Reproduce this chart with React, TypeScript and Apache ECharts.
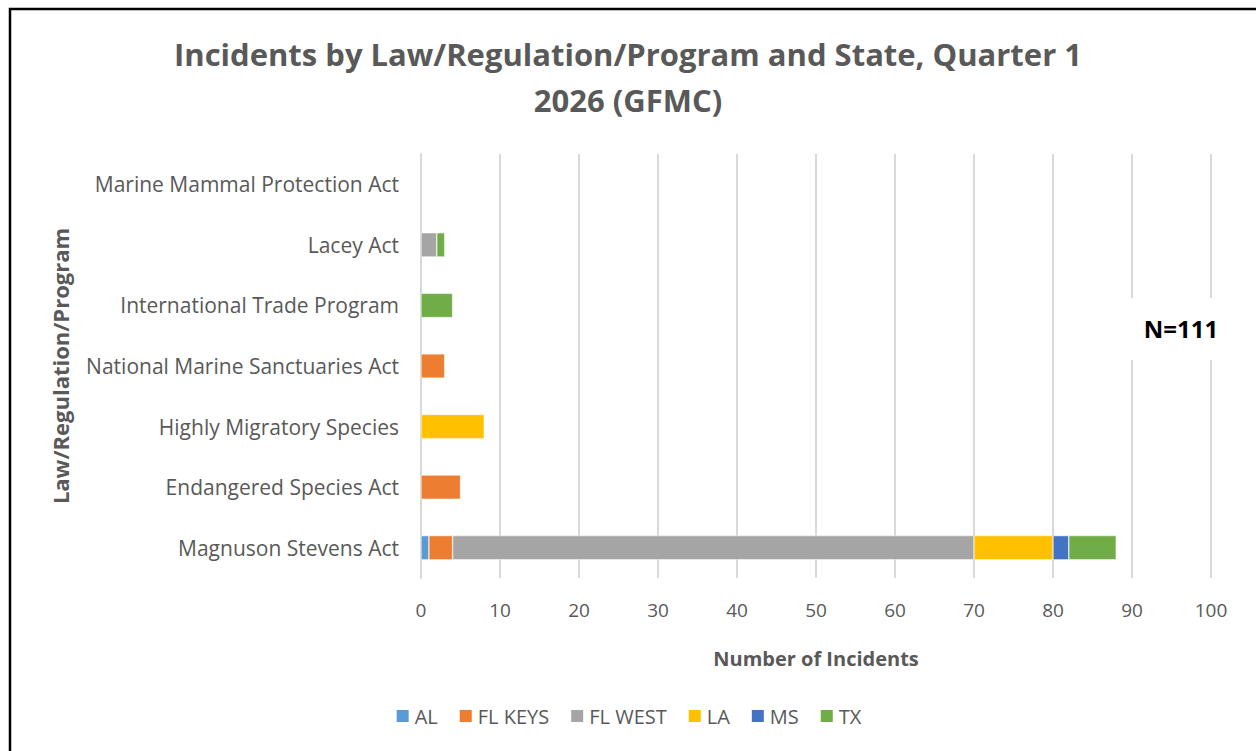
import React, { useEffect, useRef } from "react";
import * as echarts from "echarts";

const categories = [
  "Magnuson Stevens Act",
  "Endangered Species Act",
  "Highly Migratory Species",
  "National Marine Sanctuaries Act",
  "International Trade Program",
  "Lacey Act",
  "Marine Mammal Protection Act",
];
const seriesNames = ["AL", "FL KEYS", "FL WEST", "LA", "MS", "TX"];
const colors = ["#5B9BD5", "#ED7D31", "#A5A5A5", "#FFC000", "#4472C4", "#70AD47"];
const alValues = [1, null, null, null, null, null, null];
const flKeysValues = [3, 5, null, 3, null, null, null];
const flWestValues = [66, null, null, null, null, 2, null];
const laValues = [10, null, 8, null, null, null, null];
const msValues = [2, null, null, null, null, null, null];
const txValues = [6, null, null, null, 4, 1, null];
const allValues = [alValues, flKeysValues, flWestValues, laValues, msValues, txValues];

const FONT = "'Open Sans', sans-serif";
const GREY = "#595959";

export default function App() {
  const ref = useRef<HTMLDivElement>(null);
  useEffect(() => {
    const chart = echarts.init(ref.current!, null, { renderer: "svg" });
    chart.setOption({
      animation: false,
      backgroundColor: "#ffffff",
      title: {
        text: "Incidents by Law/Regulation/Program and State, Quarter 1\n2026 (GFMC)",
        left: "center",
        top: 26,
        textStyle: {
          fontFamily: FONT,
          fontSize: 31,
          fontWeight: "bold",
          color: GREY,
          lineHeight: 46,
        },
      },
      grid: { left: 421, right: 45, top: 154, bottom: 173, containLabel: false },
      legend: {
        bottom: 20,
        left: "center",
        itemWidth: 14,
        itemHeight: 14,
        itemGap: 20,
        icon: "rect",
        textStyle: { fontFamily: FONT, fontSize: 20, color: GREY },
        data: seriesNames,
      },
      xAxis: {
        type: "value",
        min: 0,
        max: 100,
        interval: 10,
        name: "Number of Incidents",
        nameLocation: "middle",
        nameGap: 70,
        nameTextStyle: { fontFamily: FONT, fontSize: 20, fontWeight: "bold", color: GREY },
        axisLabel: { fontFamily: FONT, fontSize: 19, color: GREY, margin: 22 },
        axisLine: { show: false },
        axisTick: { show: false },
        splitLine: { show: true, lineStyle: { color: "#D9D9D9", width: 2 } },
      },
      yAxis: {
        type: "category",
        data: categories,
        name: "Law/Regulation/Program",
        nameLocation: "middle",
        nameGap: 350,
        nameTextStyle: { fontFamily: FONT, fontSize: 22, fontWeight: "bold", color: GREY },
        axisLabel: { fontFamily: FONT, fontSize: 21, color: GREY, margin: 22 },
        axisLine: { show: true, lineStyle: { color: "#D9D9D9", width: 2 } },
        axisTick: { show: false },
        splitLine: { show: false },
      },
      series: seriesNames.map((name, i) => ({
        name,
        type: "bar",
        stack: "total",
        data: allValues[i],
        barWidth: "40%",
        itemStyle: { color: colors[i], borderColor: "#ffffff", borderWidth: 0.5 },
      })),
      graphic: [
        {
          type: "rect",
          shape: { x: 1118, y: 298, width: 130, height: 62 },
          style: { fill: "#ffffff" },
          z: 10,
        },
        {
          type: "text",
          x: 1181,
          y: 328,
          style: {
            text: "N=111",
            fontFamily: FONT,
            fontSize: 24,
            fontWeight: "bold",
            fill: "#000000",
            align: "center",
            verticalAlign: "middle",
          },
          z: 11,
        },
        {
          type: "rect",
          shape: { x: 10, y: 9, width: 1260, height: 760 },
          style: { fill: "none", stroke: "#000000", lineWidth: 2.5 },
          z: 12,
        },
      ],
    });
    return () => chart.dispose();
  }, []);
  return (
    <div
      ref={ref}
      style={{ position: "fixed", left: 0, top: 0, width: 1256, height: 751 }}
    />
  );
}
